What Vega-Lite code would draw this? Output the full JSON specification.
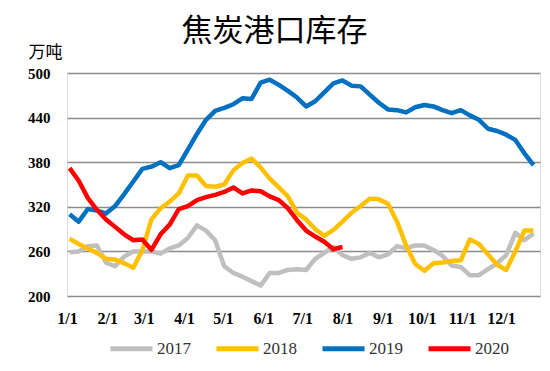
{
  "$schema": "https://vega.github.io/schema/vega-lite/v6.json",
  "width": 473,
  "height": 223,
  "autosize": {"type": "none"},
  "padding": {"left": 67, "top": 73, "right": 10, "bottom": 75},
  "background": "white",
  "title": {"text": "焦炭港口库存", "font": "Noto Sans CJK SC", "fontSize": 31, "fontWeight": "normal", "color": "#000000", "anchor": "middle", "dx": -29, "offset": -5},
  "data": {
    "values": [
      {"date": "01/03", "2017": 259, "2018": 277, "2019": 310, "2020": 372},
      {"date": "01/10", "2017": 260, "2018": 270, "2019": 300, "2020": 355},
      {"date": "01/17", "2017": 267, "2018": 264, "2019": 317, "2020": 332},
      {"date": "01/24", "2017": 268, "2018": 258, "2019": 315, "2020": 316},
      {"date": "01/31", "2017": 245, "2018": 250, "2019": 311, "2020": 303},
      {"date": "02/07", "2017": 240, "2018": 249, "2019": 321, "2020": 293},
      {"date": "02/14", "2017": 253, "2018": 244, "2019": 337, "2020": 283},
      {"date": "02/21", "2017": 260, "2018": 238, "2019": 354, "2020": 275},
      {"date": "02/28", "2017": 260, "2018": 262, "2019": 371, "2020": 276},
      {"date": "03/07", "2017": 260, "2018": 303, "2019": 374, "2020": 262},
      {"date": "03/14", "2017": 257, "2018": 318, "2019": 380, "2020": 283},
      {"date": "03/21", "2017": 264, "2018": 327, "2019": 372, "2020": 296},
      {"date": "03/28", "2017": 268, "2018": 338, "2019": 376, "2020": 317},
      {"date": "04/04", "2017": 278, "2018": 362, "2019": 397, "2020": 321},
      {"date": "04/11", "2017": 295, "2018": 362, "2019": 418, "2020": 329},
      {"date": "04/18", "2017": 288, "2018": 348, "2019": 437, "2020": 333},
      {"date": "04/25", "2017": 275, "2018": 347, "2019": 449, "2020": 336},
      {"date": "05/02", "2017": 240, "2018": 350, "2019": 453, "2020": 340},
      {"date": "05/09", "2017": 231, "2018": 369, "2019": 458, "2020": 346},
      {"date": "05/16", "2017": 226, "2018": 379, "2019": 466, "2020": 338},
      {"date": "05/23", "2017": 220, "2018": 385, "2019": 465, "2020": 342},
      {"date": "05/30", "2017": 214, "2018": 373, "2019": 487, "2020": 341},
      {"date": "06/06", "2017": 231, "2018": 358, "2019": 491, "2020": 334},
      {"date": "06/13", "2017": 231, "2018": 346, "2019": 484, "2020": 329},
      {"date": "06/20", "2017": 235, "2018": 334, "2019": 476, "2020": 318},
      {"date": "06/27", "2017": 236, "2018": 312, "2019": 467, "2020": 302},
      {"date": "07/04", "2017": 235, "2018": 303, "2019": 455, "2020": 288},
      {"date": "07/11", "2017": 250, "2018": 290, "2019": 462, "2020": 280},
      {"date": "07/18", "2017": 258, "2018": 281, "2019": 474, "2020": 273},
      {"date": "07/25", "2017": 266, "2018": 289, "2019": 486, "2020": 263},
      {"date": "08/01", "2017": 255, "2018": 300, "2019": 490, "2020": 266},
      {"date": "08/08", "2017": 250, "2018": 312, "2019": 483},
      {"date": "08/15", "2017": 252, "2018": 321, "2019": 482},
      {"date": "08/22", "2017": 258, "2018": 331, "2019": 471},
      {"date": "08/29", "2017": 252, "2018": 330, "2019": 460},
      {"date": "09/05", "2017": 256, "2018": 324, "2019": 451},
      {"date": "09/12", "2017": 267, "2018": 300, "2019": 450},
      {"date": "09/19", "2017": 264, "2018": 268, "2019": 447},
      {"date": "09/26", "2017": 268, "2018": 243, "2019": 454},
      {"date": "10/03", "2017": 268, "2018": 234, "2019": 457},
      {"date": "10/10", "2017": 262, "2018": 244, "2019": 455},
      {"date": "10/17", "2017": 254, "2018": 245, "2019": 450},
      {"date": "10/24", "2017": 241, "2018": 247, "2019": 446},
      {"date": "10/31", "2017": 239, "2018": 248, "2019": 450},
      {"date": "11/07", "2017": 228, "2018": 276, "2019": 443},
      {"date": "11/14", "2017": 228, "2018": 270, "2019": 437},
      {"date": "11/21", "2017": 236, "2018": 256, "2019": 425},
      {"date": "11/28", "2017": 244, "2018": 242, "2019": 422},
      {"date": "12/05", "2017": 255, "2018": 235, "2019": 417},
      {"date": "12/12", "2017": 285, "2018": 260, "2019": 410},
      {"date": "12/19", "2017": 275, "2018": 288, "2019": 392},
      {"date": "12/26", "2017": 284, "2018": 288, "2019": 376}
    ],
    "format": {"parse": {"date": "date:'%m/%d'"}}
  },
  "transform": [
    {"fold": ["2017", "2018", "2019", "2020"], "as": ["year", "value"]},
    {"filter": "isValid(datum.value)"}
  ],
  "mark": {"type": "line", "strokeWidth": 4.5, "strokeJoin": "round"},
  "encoding": {
    "x": {
      "field": "date", "type": "temporal",
      "scale": {"domain": [{"year": 1900, "month": 1, "date": 1}, {"year": 1900, "month": 12, "date": 31}]},
      "axis": {
        "values": [
          {"year": 1900, "month": 1, "date": 1}, {"year": 1900, "month": 2, "date": 1},
          {"year": 1900, "month": 3, "date": 1}, {"year": 1900, "month": 4, "date": 1},
          {"year": 1900, "month": 5, "date": 1}, {"year": 1900, "month": 6, "date": 1},
          {"year": 1900, "month": 7, "date": 1}, {"year": 1900, "month": 8, "date": 1},
          {"year": 1900, "month": 9, "date": 1}, {"year": 1900, "month": 10, "date": 1},
          {"year": 1900, "month": 11, "date": 1}, {"year": 1900, "month": 12, "date": 1}
        ],
        "format": "%-m/%-d", "title": null, "grid": false, "domain": false, "ticks": false,
        "labelFont": "Liberation Serif", "labelFontWeight": "bold", "labelFontSize": 16,
        "labelColor": "#000000", "labelPadding": 14, "labelOverlap": false, "labelFlush": false
      }
    },
    "y": {
      "field": "value", "type": "quantitative",
      "scale": {"domain": [200, 500], "nice": false, "zero": false},
      "axis": {
        "values": [200, 260, 320, 380, 440, 500],
        "title": "万吨", "titleAngle": 0, "titleFont": "Noto Sans CJK SC", "titleFontSize": 17,
        "titleFontWeight": "normal", "titleColor": "#000000", "titleAlign": "left", "titleBaseline": "middle",
        "titleX": -39, "titleY": -21,
        "labelFont": "Liberation Serif", "labelFontWeight": "bold", "labelFontSize": 15, "labelColor": "#000000",
        "labelPadding": 17, "domain": false, "ticks": false, "gridColor": "#8c8c8c", "gridWidth": 1.5
      }
    },
    "color": {
      "field": "year", "type": "nominal",
      "scale": {"domain": ["2017", "2018", "2019", "2020"], "range": ["#BFBFBF", "#FFC000", "#0070C0", "#FF0000"]},
      "legend": {
        "orient": "none", "legendX": 41, "legendY": 252, "direction": "horizontal", "title": null,
        "symbolType": "stroke", "symbolSize": 1764, "symbolStrokeWidth": 5,
        "labelFont": "Liberation Serif", "labelFontSize": 17, "labelColor": "#333333",
        "columnPadding": 15, "labelOffset": 2
      }
    }
  }
}
